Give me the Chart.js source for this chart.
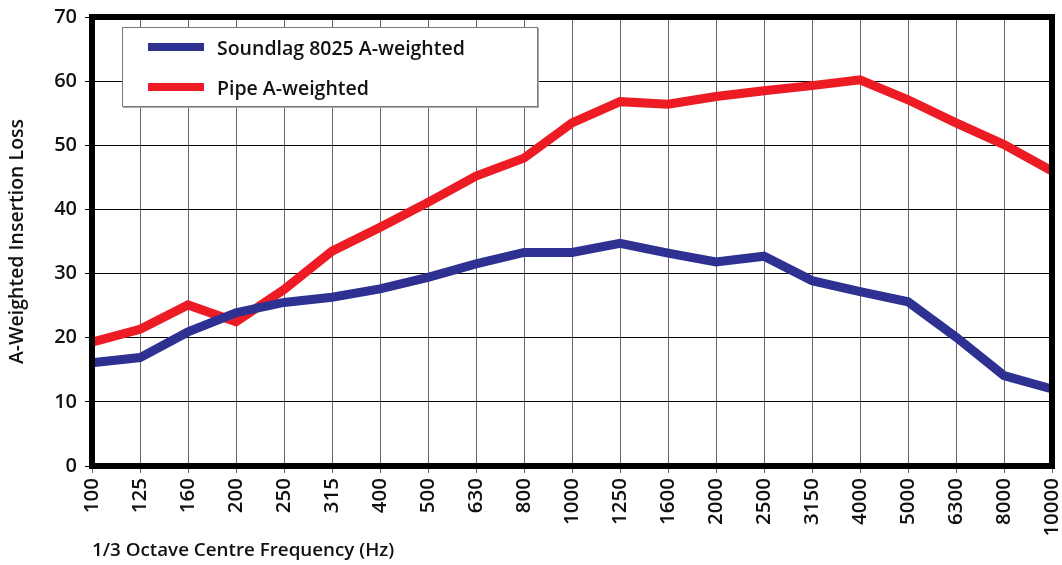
<!DOCTYPE html>
<html>
<head>
<meta charset="utf-8">
<script src="https://cdn.jsdelivr.net/npm/chart.js@4.4.1/dist/chart.umd.min.js"></script>
<style>
  html, body { margin: 0; padding: 0; background: #fff; }
  #wrap { position: relative; width: 1062px; height: 565px; }
  #legend {
    position: absolute; left: 122px; top: 27px; width: 414px; height: 78px;
    background: #fff; border: 1px solid #7a7a7a; box-shadow: 1px 1px 0 #aaa;
    font-family: "Open Sans", sans-serif; font-weight: 600; font-size: 19.5px; color: #111;
  }
  .lg-row { position: absolute; left: 25px; display: flex; align-items: center; }
  .lg-swatch { width: 56px; height: 8px; margin-right: 13px; }
</style>
</head>
<body>
<div id="wrap">
  <canvas id="insertionChart" width="1062" height="565"></canvas>
  <div id="legend"></div>
</div>
<script>
const frequencies = ["100", "125", "160", "200", "250", "315", "400", "500", "630", "800",
  "1000", "1250", "1600", "2000", "2500", "3150", "4000", "5000", "6300", "8000", "10000"];

const soundlagValues = [16.1, 16.9, 20.9, 23.9, 25.5, 26.3, 27.6, 29.4, 31.5, 33.3,
  33.3, 34.7, 33.2, 31.8, 32.7, 28.9, 27.2, 25.6, 20.1, 14.1, 12.0];

const pipeValues = [19.3, 21.3, 25.1, 22.5, 27.5, 33.5, 37.2, 41.1, 45.2, 48.0,
  53.5, 56.8, 56.4, 57.6, 58.5, 59.3, 60.2, 57.1, 53.5, 50.1, 46.0];

const yTicks = [0, 10, 20, 30, 40, 50, 60, 70];

const BLUE = "#2e3192";
const RED = "#ed1c24";
const FONT = "'Open Sans', sans-serif";

// thick black frame around the plot area
const framePlugin = {
  id: "frame",
  afterDraw(chart) {
    const { ctx, chartArea: a } = chart;
    ctx.save();
    ctx.strokeStyle = "#000";
    ctx.lineWidth = 6;
    ctx.strokeRect(a.left, a.top, a.right - a.left, a.bottom - a.top);
    ctx.restore();
  }
};

const chart = new Chart(document.getElementById("insertionChart"), {
  type: "line",
  data: {
    labels: frequencies,
    datasets: [
      { label: "Soundlag 8025 A-weighted", data: soundlagValues, borderColor: BLUE },
      { label: "Pipe A-weighted", data: pipeValues, borderColor: RED }
    ].map(ds => ({
      ...ds,
      backgroundColor: ds.borderColor,
      borderWidth: 9,
      pointRadius: 0,
      tension: 0,
      borderJoinStyle: "miter"
    }))
  },
  options: {
    responsive: false,
    animation: false,
    events: [],
    layout: { padding: { top: 17, right: 10, left: 0, bottom: 0 } },
    plugins: {
      legend: { display: false },
      tooltip: { enabled: false }
    },
    scales: {
      x: {
        offset: false,
        grid: { color: "#666", lineWidth: 1, tickLength: 7 },
        border: { display: false },
        ticks: {
          color: "#111",
          font: { family: FONT, size: 20.5, weight: 600 },
          minRotation: 90, maxRotation: 90,
          autoSkip: false,
          padding: 5
        },
        title: {
          display: true,
          text: "1/3 Octave Centre Frequency (Hz)",
          align: "start",
          color: "#111",
          font: { family: FONT, size: 18.8, weight: 600 },
          padding: { top: 0, bottom: 3 }
        },
        afterFit: scale => {
          scale.height = 99;
          scale.paddingLeft = 0;
          scale.paddingRight = 0;
        }
      },
      y: {
        min: 0, max: 70,
        afterBuildTicks: scale => { scale.ticks = yTicks.map(v => ({ value: v })); },
        grid: { color: "#000", lineWidth: 1, tickLength: 7 },
        border: { display: false },
        ticks: {
          color: "#111",
          font: { family: FONT, size: 20, weight: 600 },
          padding: 8
        },
        title: {
          display: true,
          text: "A-Weighted Insertion Loss",
          color: "#111",
          font: { family: FONT, size: 19.5, weight: 600 },
          padding: { top: 6, bottom: 0 }
        },
        afterFit: scale => {
          scale.width = 92;
          scale.paddingTop = 0;
          scale.paddingBottom = 0;
        }
      }
    }
  },
  plugins: [framePlugin]
});

// legend box drawn inside the plot, built from the datasets
const legendEl = document.getElementById("legend");
chart.data.datasets.forEach((ds, i) => {
  const row = document.createElement("div");
  row.className = "lg-row";
  row.style.top = (i === 0 ? 6 : 46) + "px";
  row.style.height = "26px";
  const sw = document.createElement("span");
  sw.className = "lg-swatch";
  sw.style.background = ds.borderColor;
  const txt = document.createElement("span");
  txt.textContent = ds.label;
  row.appendChild(sw);
  row.appendChild(txt);
  legendEl.appendChild(row);
});
</script>
</body>
</html>
